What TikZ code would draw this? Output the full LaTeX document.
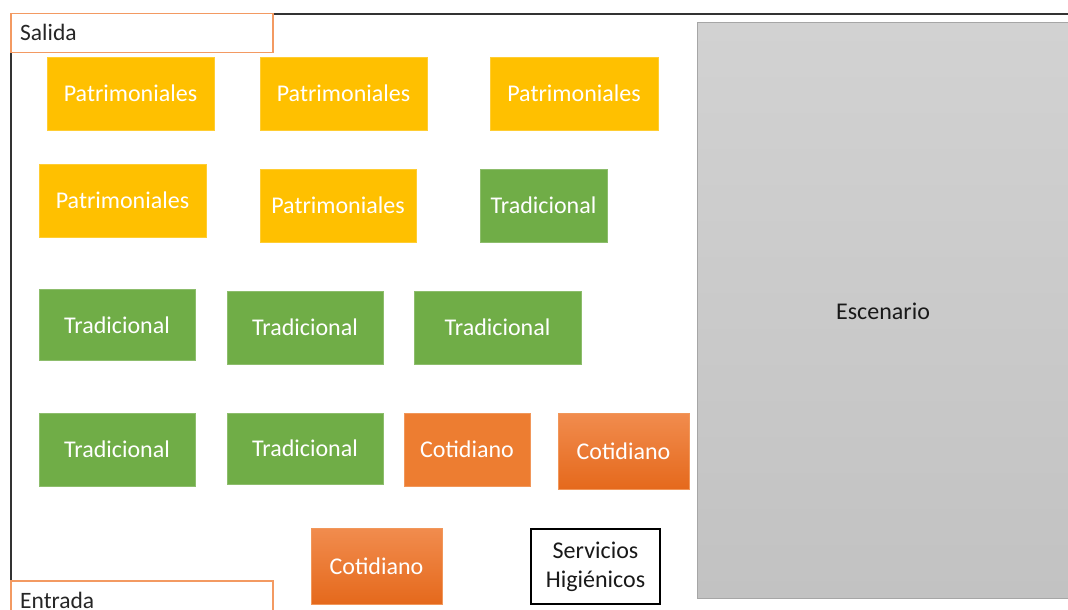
\documentclass[tikz,border=0pt]{standalone}
\usepackage{fontspec}
\setmainfont{Carlito}
\begin{document}
\begin{tikzpicture}[x=1pt,y=-1pt,
  box/.style={rectangle,inner sep=0pt,font=\fontsize{24}{28}\selectfont,text=white},
  patri/.style={box,fill=patriC,draw=patriC!80!white},
  trad/.style={box,fill=tradC,draw=tradC!80!white},
  coti/.style={box,fill=cotiC,draw=cotiC!80!white},
  cotig/.style={box,top color=cotiTop,bottom color=cotiBot,draw=cotiC!80!white},
  door/.style={rectangle,draw=doorC,line width=1.5pt,inner sep=0pt,anchor=north west},
  doortext/.style={anchor=west,inner sep=0pt,font=\fontsize{23.5}{28}\selectfont,text=black!85}
]
\definecolor{patriC}{HTML}{FFC000}
\definecolor{tradC}{HTML}{70AD47}
\definecolor{cotiC}{HTML}{ED7D31}
\definecolor{cotiTop}{HTML}{F18C4E}
\definecolor{cotiBot}{HTML}{E5691C}
\definecolor{doorC}{HTML}{F39A62}
\definecolor{stageTop}{HTML}{D2D2D2}
\definecolor{stageBot}{HTML}{C2C2C2}
\useasboundingbox (0,0) rectangle (1068,610);
\clip (0,0) rectangle (1068,610);
% outer frame
\coordinate (ft1) at (272,14);
\coordinate (ft2) at (1070,14);
\coordinate (fl1) at (11,52);
\coordinate (fl2) at (11,580);
\draw[black!80,line width=1.4pt] (ft1) -- (ft2);
\draw[black!80,line width=1.2pt] (fl1) -- (fl2);
% stage
\node[rectangle,inner sep=0pt,anchor=north west,minimum width=374,minimum height=576,
  top color=stageTop,bottom color=stageBot,draw=black!35,line width=1pt] (esc) at (697,22) {};
\node[font=\fontsize{24}{28}\selectfont,text=black!90] (esct) at (883,311) {Escenario};
% doors
\node[door,minimum width=262,minimum height=39,fill=white] (sal) at (10,13) {};
\node[doortext] (salt) at (20,32) {Salida};
\node[door,minimum width=262,minimum height=40,fill=white] (ent) at (10,580) {};
\node[doortext] (entt) at (20,600) {Entrada};
% Patrimoniales
\node[patri,minimum width=167,minimum height=73] (p1) at (130.5,93.5) {Patrimoniales};
\node[patri,minimum width=167,minimum height=73] (p2) at (343.5,93.5) {Patrimoniales};
\node[patri,minimum width=168,minimum height=73] (p3) at (574,93.5) {Patrimoniales};
\node[patri,minimum width=167,minimum height=73] (p4) at (122.5,200.5) {Patrimoniales};
\node[patri,minimum width=156,minimum height=73] (p5) at (338,205.5) {Patrimoniales};
% Tradicional
\node[trad,minimum width=127,minimum height=73] (t1) at (543.5,205.5) {Tradicional};
\node[trad,minimum width=156,minimum height=71] (t2) at (117,325) {Tradicional};
\node[trad,minimum width=156,minimum height=73] (t3) at (305,327.5) {Tradicional};
\node[trad,minimum width=167,minimum height=73] (t4) at (497.5,327.5) {Tradicional};
\node[trad,minimum width=156,minimum height=73] (t5) at (117,449.5) {Tradicional};
\node[trad,minimum width=156,minimum height=71] (t6) at (305,448.5) {Tradicional};
% Cotidiano
\node[coti,minimum width=126,minimum height=73] (c1) at (467,449.5) {Cotidiano};
\node[cotig,minimum width=131,minimum height=76] (c2) at (623.5,451) {Cotidiano};
\node[cotig,minimum width=131,minimum height=76] (c3) at (376.5,566) {Cotidiano};
% Servicios
\node[rectangle,draw=black,line width=1.2pt,fill=white,minimum width=129,minimum height=75,inner sep=0pt,
  align=center,font=\fontsize{24}{29}\selectfont,text=black!90] (sh) at (595.5,566.5) {Servicios\\Higiénicos};
\end{tikzpicture}
\end{document}
